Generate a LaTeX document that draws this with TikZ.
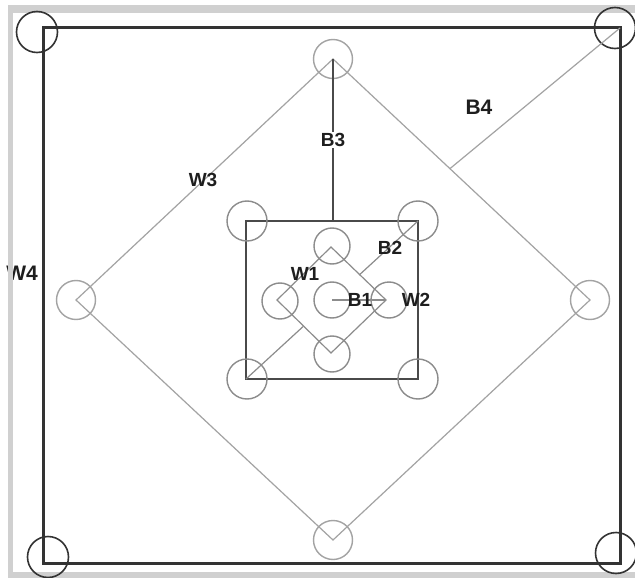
\documentclass[tikz,border=0pt]{standalone}
\usepackage{fontspec}
\setmainfont{Liberation Sans}
\usetikzlibrary{calc}
\definecolor{frameband}{HTML}{D0D0D0}
\definecolor{heavyline}{HTML}{333333}
\definecolor{squareline}{HTML}{4A4A4A}
\definecolor{paleline}{HTML}{A3A3A3}
\definecolor{pinline}{HTML}{8C8C8C}
\definecolor{labeltext}{HTML}{1E1E1E}
\tikzset{
  cornerpin/.style={circle, draw=heavyline, line width=1.6pt, minimum size=41pt, inner sep=0pt},
  diamondpin/.style={circle, draw=paleline, line width=1.4pt, minimum size=39pt, inner sep=0pt},
  squarepin/.style={circle, draw=pinline, line width=1.4pt, minimum size=40pt, inner sep=0pt},
  smallpin/.style={circle, draw=pinline, line width=1.4pt, minimum size=36pt, inner sep=0pt},
  tag/.style={font=\bfseries\fontsize{19}{21}\selectfont, text=labeltext, inner sep=0pt},
  bigtag/.style={font=\bfseries\fontsize{21}{23}\selectfont, text=labeltext, inner sep=0pt},
}
\begin{document}
\begin{tikzpicture}[x=1pt,y=-1pt]
\useasboundingbox (0,0) rectangle (635,578);
\fill[white] (0,0) rectangle (635,578);

% label at the far left, partly covered by the window edge
\node[bigtag, anchor=east] (w4) at (38,273) {W4};

% window edge bands
\fill[frameband] (8,5) rectangle (635,13);
\fill[frameband] (8,5) rectangle (13,578);
\fill[frameband] (8,572) rectangle (635,578);

% ---------- outer square ----------
\coordinate (otl) at (43,28);
\coordinate (otr) at (620,28);
\coordinate (obl) at (43,563);
\coordinate (obr) at (620,563);
\draw[heavyline, line width=3pt] (otl) -- (otr) -- (obr) -- (obl) -- cycle;
\node[cornerpin] (ctl) at (37,32) {};
\node[cornerpin] (ctr) at (615,28) {};
\node[cornerpin] (cbl) at (48,557) {};
\node[cornerpin] (cbr) at (616,553) {};

% ---------- large diamond ----------
\coordinate (dtop) at (333,59);
\coordinate (dleft) at (76,300);
\coordinate (dright) at (590,300);
\coordinate (dbot) at (333,540);
\draw[paleline, line width=1.2pt] (dtop) -- (dright) -- (dbot) -- (dleft) -- cycle;
\node[diamondpin] (ptop) at (dtop) {};
\node[diamondpin] (pleft) at (dleft) {};
\node[diamondpin] (pright) at (dright) {};
\node[diamondpin] (pbot) at (dbot) {};

% ---------- inner square ----------
\coordinate (stl) at (246,221);
\coordinate (str) at (418,221);
\coordinate (sbl) at (246,379);
\coordinate (sbr) at (418,379);
\coordinate (stop) at (333,221);
\draw[squareline, line width=1.5pt] (stl) -- (str) -- (sbr) -- (sbl) -- cycle;
\node[squarepin] (qtl) at (247,221) {};
\node[squarepin] (qtr) at (418,221) {};
\node[squarepin] (qbl) at (247,379) {};
\node[squarepin] (qbr) at (418,379) {};

% ---------- small diamond ----------
\coordinate (itop) at (331,247);
\coordinate (ileft) at (277,300);
\coordinate (iright) at (386,300);
\coordinate (ibot) at (331,353);
\draw[pinline, line width=1.2pt] (itop) -- (iright) -- (ibot) -- (ileft) -- cycle;
\node[smallpin] (mtop) at (332,246) {};
\node[smallpin] (mleft) at (280,301) {};
\node[smallpin] (mright) at (389,300) {};
\node[smallpin] (mbot) at (332,354) {};
\node[smallpin] (mmid) at (332,300) {};

% ---------- links ----------
% B1: centre to right tip of the small diamond
\draw[pinline, line width=1.2pt] (mmid.center) -- (iright);
% B2: square corners to the small diamond edges
\coordinate (b2a) at ($(sbl)!0.333!(str)$);
\coordinate (b2b) at ($(sbl)!0.658!(str)$);
\draw[pinline, line width=1.2pt] (sbl) -- (b2a);
\draw[pinline, line width=1.2pt] (b2b) -- (str);
% B3: top of the large diamond to the inner square
\draw[squareline, line width=1.3pt] (dtop) -- (stop);
% B4: outer corner to the large diamond edge
\coordinate (b4end) at ($(dtop)!0.455!(dright)$);
\draw[paleline, line width=1.2pt] (otr) -- (b4end);

% ---------- labels ----------
\node[tag, fill=white, inner sep=1pt] (lb3) at (333,140) {B3};
\node[bigtag] (lb4) at (479,107) {B4};
\node[tag] (lw3) at (203,180) {W3};
\node[tag] (lw1) at (305,274) {W1};
\node[tag] (lb2) at (390,248) {B2};
\node[tag] (lb1) at (360,300) {B1};
\node[tag] (lw2) at (416,300) {W2};
\end{tikzpicture}
\end{document}
